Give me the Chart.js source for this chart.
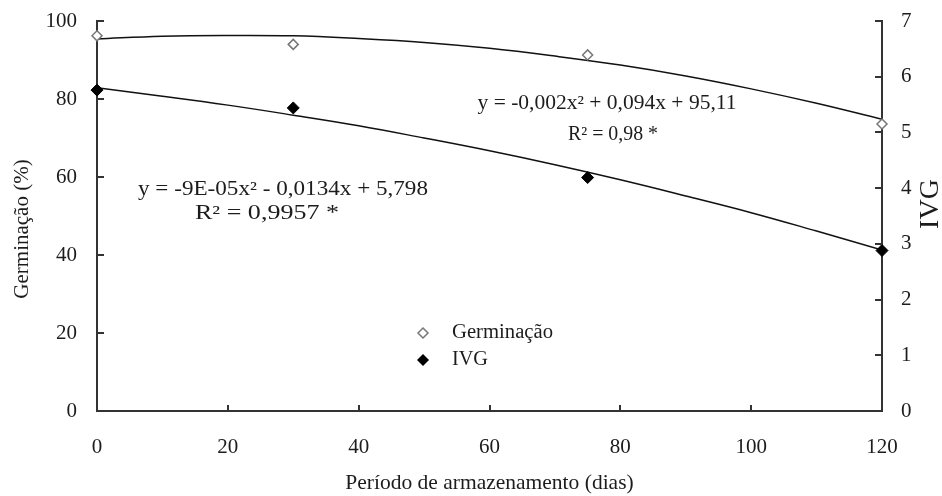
<!DOCTYPE html>
<html>
<head>
<meta charset="utf-8">
<script src="https://cdn.jsdelivr.net/npm/chart.js@4.4.0/dist/chart.umd.min.js"></script>
<style>
  html, body { margin: 0; padding: 0; background: #fff; }
  #wrap { width: 942px; height: 496px; }
</style>
</head>
<body>
<div id="wrap"><canvas id="chart"></canvas></div>
<script>
// observed points
const days = [0, 30, 75, 120];
const germinacao = [96.2, 94.0, 91.3, 73.6];
const ivg = [5.76, 5.44, 4.19, 2.88];

// fitted curves
const curveDays = [0, 10, 20, 30, 40, 50, 60, 70, 80, 90, 100, 110, 120];
const germCurve = [95.4, 96.1, 96.3, 96.2, 95.5, 94.5, 93.0, 91.0, 88.7, 85.9, 82.6, 78.9, 74.8];
const ivgCurve = [5.80, 5.65, 5.49, 5.31, 5.12, 4.90, 4.67, 4.42, 4.15, 3.86, 3.56, 3.23, 2.89];

const germTicks = [0, 20, 40, 60, 80, 100];
const ivgTicks = [0, 1, 2, 3, 4, 5, 6, 7];
const dayTicks = [0, 20, 40, 60, 80, 100, 120];

const serif = "'Liberation Serif', 'Times New Roman', serif";
const ink = '#1c1c1c';

const toXY = (xs, ys) => xs.map((x, i) => ({ x: x, y: ys[i] }));

// text squeezed or stretched to the width it has in the picture
function fitText(ctx, text, cx, cy, width, align) {
    const w = ctx.measureText(text).width;
    ctx.save();
    ctx.translate(cx, cy);
    ctx.scale(width / w, 1);
    ctx.textAlign = align || 'center';
    ctx.fillText(text, 0, 0);
    ctx.restore();
}

// inward tick marks, equations, axis titles and legend
const extras = {
    id: 'extras',
    afterDraw(chart) {
        const ctx = chart.ctx;
        const x = chart.scales.x, y = chart.scales.y, y2 = chart.scales.y2;
        const area = chart.chartArea;
        ctx.save();
        ctx.strokeStyle = '#333';
        ctx.lineWidth = 2;
        ctx.beginPath();
        germTicks.forEach(v => {
            const py = Math.round(y.getPixelForValue(v));
            ctx.moveTo(area.left, py); ctx.lineTo(area.left + 7, py);
        });
        ivgTicks.forEach(v => {
            const py = Math.round(y2.getPixelForValue(v));
            ctx.moveTo(area.right, py); ctx.lineTo(area.right - 7, py);
        });
        dayTicks.forEach(v => {
            const px = Math.round(x.getPixelForValue(v));
            ctx.moveTo(px, area.bottom); ctx.lineTo(px, area.bottom - 6);
        });
        ctx.stroke();

        ctx.fillStyle = ink;
        ctx.textBaseline = 'middle';
        ctx.font = '20px ' + serif;
        fitText(ctx, 'y = -0,002x² + 0,094x + 95,11', 607, 104, 259);
        fitText(ctx, 'R² = 0,98 *', 613, 135, 90);
        fitText(ctx, 'y = -9E-05x² - 0,0134x + 5,798', 283, 190, 290);
        fitText(ctx, 'R² = 0,9957 *', 267, 214, 144);

        ctx.textAlign = 'center';
        ctx.font = '21px ' + serif;
        ctx.save();
        ctx.translate(22, 229);
        ctx.rotate(-Math.PI / 2);
        ctx.fillText('Germinação (%)', 0, 0);
        ctx.restore();
        ctx.font = '28px ' + serif;
        ctx.save();
        ctx.translate(931, 204);
        ctx.rotate(-Math.PI / 2);
        ctx.fillText('IVG', 0, 0);
        ctx.restore();

        // legend
        const diamond = (cx, cy, r) => {
            ctx.beginPath();
            ctx.moveTo(cx, cy - r); ctx.lineTo(cx + r, cy);
            ctx.lineTo(cx, cy + r); ctx.lineTo(cx - r, cy);
            ctx.closePath();
        };
        ctx.lineWidth = 1.5;
        diamond(423, 333, 5);
        ctx.fillStyle = '#fff'; ctx.fill();
        ctx.strokeStyle = '#777'; ctx.stroke();
        diamond(423, 360, 6);
        ctx.fillStyle = '#000'; ctx.fill();
        ctx.fillStyle = ink;
        ctx.font = '20px ' + serif;
        fitText(ctx, 'Germinação', 452, 333, 101, 'left');
        fitText(ctx, 'IVG', 452, 360, 36, 'left');
        ctx.restore();
    }
};

const fixWidth = w => s => { s.width = w; s.paddingTop = 0; s.paddingBottom = 0; };

new Chart(document.getElementById('chart'), {
    type: 'scatter',
    data: {
        datasets: [{
            label: 'Germinação',
            data: toXY(days, germinacao),
            yAxisID: 'y',
            clip: false,
            pointStyle: 'rectRot',
            pointRadius: 5,
            borderColor: '#777',
            backgroundColor: '#fff',
            borderWidth: 1.5
        }, {
            label: 'IVG',
            data: toXY(days, ivg),
            yAxisID: 'y2',
            clip: false,
            pointStyle: 'rectRot',
            pointRadius: 6,
            borderColor: '#000',
            backgroundColor: '#000',
            borderWidth: 1
        }, {
            label: 'Germinação ajuste',
            data: toXY(curveDays, germCurve),
            yAxisID: 'y',
            showLine: true,
            pointRadius: 0,
            borderColor: '#111',
            borderWidth: 1.5,
            tension: 0.4
        }, {
            label: 'IVG ajuste',
            data: toXY(curveDays, ivgCurve),
            yAxisID: 'y2',
            showLine: true,
            pointRadius: 0,
            borderColor: '#111',
            borderWidth: 1.5,
            tension: 0.4
        }]
    },
    options: {
        responsive: true,
        maintainAspectRatio: false,
        animation: false,
        layout: { padding: { top: 21 } },
        plugins: {
            legend: { display: false },
            tooltip: { enabled: false }
        },
        scales: {
            x: {
                type: 'linear',
                min: 0,
                max: 120,
                grid: { display: false, drawTicks: false },
                border: { color: '#333', width: 2 },
                ticks: { stepSize: 20, padding: 24, color: ink, font: { family: serif, size: 21 } },
                title: {
                    display: true,
                    text: 'Período de armazenamento (dias)',
                    color: ink,
                    font: { family: serif, size: 21.5 },
                    padding: 0
                },
                afterFit: s => { s.height = 85; }
            },
            y: {
                position: 'left',
                min: 0,
                max: 100,
                grid: { display: false, drawTicks: false },
                border: { color: '#333', width: 2 },
                ticks: { stepSize: 20, padding: 20, color: ink, font: { family: serif, size: 21 } },
                afterFit: fixWidth(97)
            },
            y2: {
                position: 'right',
                min: 0,
                max: 7,
                grid: { display: false, drawTicks: false },
                border: { color: '#333', width: 2 },
                ticks: { stepSize: 1, padding: 19, color: ink, font: { family: serif, size: 21 } },
                afterFit: fixWidth(60)
            }
        }
    },
    plugins: [extras]
});
</script>
</body>
</html>
